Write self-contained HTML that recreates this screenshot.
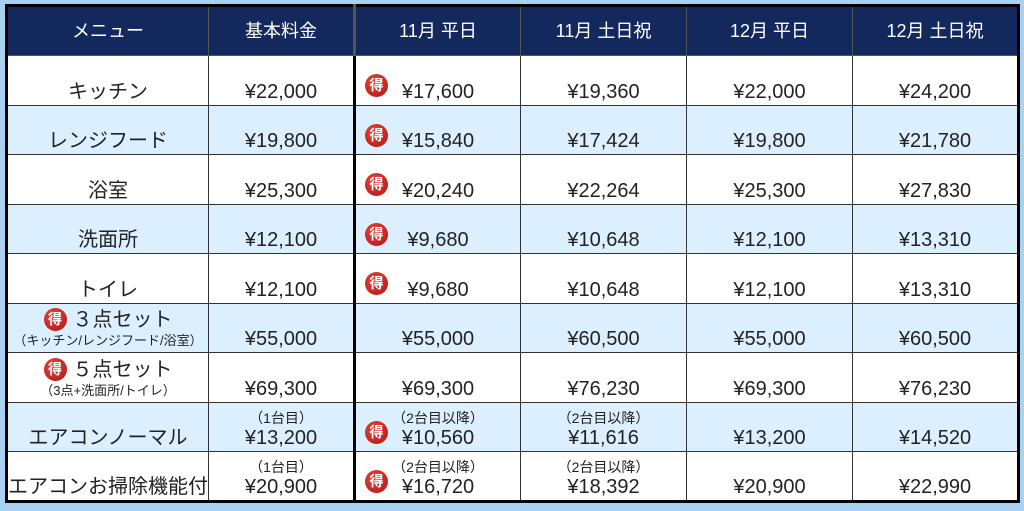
<!DOCTYPE html>
<html><head><meta charset="utf-8"><style>
html,body{margin:0;padding:0;}
body{width:1024px;height:511px;background:#a9d1f2;position:relative;overflow:hidden;font-family:"Liberation Sans","Noto Sans CJK JP",sans-serif;}
table{position:absolute;left:5px;top:4px;border-collapse:collapse;table-layout:fixed;border:3px solid #000;}
td{border:1px solid #333;padding:0;text-align:center;vertical-align:bottom;font-size:20px;color:#222;position:relative;height:49.5px;box-sizing:border-box;padding-bottom:2px;line-height:22px;}
tr.h td{background:#13285c;color:#fff;font-size:18px;vertical-align:middle;padding-bottom:0;height:50px;border-color:#555;}
tr.b td{background:#dcefff;}
tr.w td{background:#fff;}
td.k{border-right:3px solid #000;}
.s{font-size:14px;line-height:17px;display:block;}
.bd{position:absolute;left:9px;top:50%;margin-top:-6px;width:23px;height:23px;border-radius:50%;background:radial-gradient(circle at 40% 35%,#e8483a,#b01010);color:#fff;font-size:14px;line-height:23px;text-align:center;font-weight:bold;}
.bd2{position:relative;display:inline-block;width:23px;height:23px;border-radius:50%;background:radial-gradient(circle at 40% 35%,#e8483a,#b01010);color:#fff;font-size:14px;line-height:23px;font-weight:bold;vertical-align:2px;margin-right:6px;}
.st{display:block;font-size:20px;line-height:23px;}
</style></head><body>
<table>
<colgroup><col style="width:202px"><col style="width:146px"><col style="width:166px"><col style="width:166px"><col style="width:166px"><col style="width:166px"></colgroup>
<tr class="h"><td>メニュー</td><td class="k">基本料金</td><td>11月 平日</td><td>11月 土日祝</td><td>12月 平日</td><td>12月 土日祝</td></tr>
<tr class="w"><td>キッチン</td><td class="k">¥22,000</td><td><span class="bd">得</span>¥17,600</td><td>¥19,360</td><td>¥22,000</td><td>¥24,200</td></tr>
<tr class="b"><td>レンジフード</td><td class="k">¥19,800</td><td><span class="bd">得</span>¥15,840</td><td>¥17,424</td><td>¥19,800</td><td>¥21,780</td></tr>
<tr class="w"><td>浴室</td><td class="k">¥25,300</td><td><span class="bd">得</span>¥20,240</td><td>¥22,264</td><td>¥25,300</td><td>¥27,830</td></tr>
<tr class="b"><td>洗面所</td><td class="k">¥12,100</td><td><span class="bd">得</span>¥9,680</td><td>¥10,648</td><td>¥12,100</td><td>¥13,310</td></tr>
<tr class="w"><td>トイレ</td><td class="k">¥12,100</td><td><span class="bd">得</span>¥9,680</td><td>¥10,648</td><td>¥12,100</td><td>¥13,310</td></tr>
<tr class="b"><td style="padding-bottom:3px"><span class="st"><span class="bd2">得</span>３点セット</span><span class="s" style="font-size:13px">（キッチン/レンジフード/浴室）</span></td><td class="k">¥55,000</td><td>¥55,000</td><td>¥60,500</td><td>¥55,000</td><td>¥60,500</td></tr>
<tr class="w"><td style="padding-bottom:3px"><span class="st"><span class="bd2">得</span>５点セット</span><span class="s" style="font-size:13px">（3点+洗面所/トイレ）</span></td><td class="k">¥69,300</td><td>¥69,300</td><td>¥76,230</td><td>¥69,300</td><td>¥76,230</td></tr>
<tr class="b"><td>エアコンノーマル</td><td class="k"><span class="s">（1台目）</span>¥13,200</td><td><span class="bd">得</span><span class="s">（2台目以降）</span>¥10,560</td><td><span class="s">（2台目以降）</span>¥11,616</td><td>¥13,200</td><td>¥14,520</td></tr>
<tr class="w"><td>エアコンお掃除機能付</td><td class="k"><span class="s">（1台目）</span>¥20,900</td><td><span class="bd">得</span><span class="s">（2台目以降）</span>¥16,720</td><td><span class="s">（2台目以降）</span>¥18,392</td><td>¥20,900</td><td>¥22,990</td></tr>
</table>
</body></html>
